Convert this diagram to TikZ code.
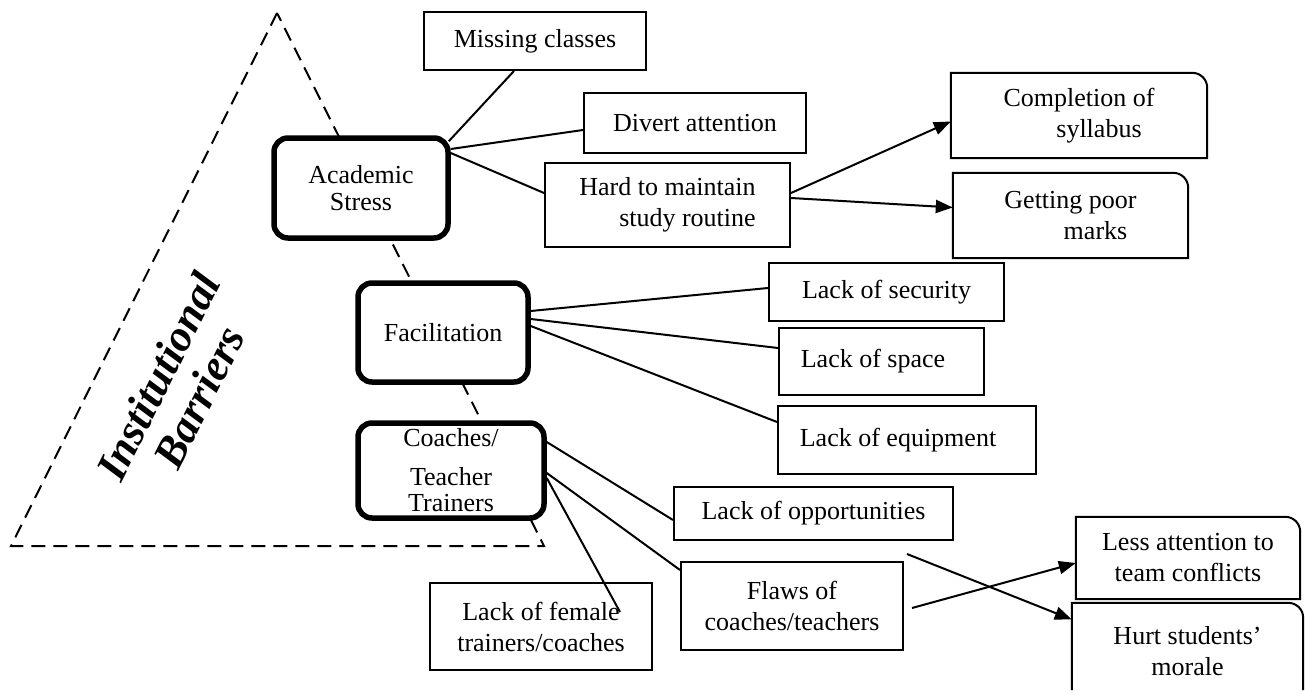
\documentclass[tikz,border=0pt]{standalone}
\usepackage{fontspec}
\setmainfont{Liberation Serif}
\usetikzlibrary{arrows.meta}
\newcommand\boxfont{\fontsize{26pt}{31pt}\selectfont}
\newcommand\ibfont{\fontsize{44pt}{46pt}\selectfont\bfseries\itshape}
\tikzset{
  box/.style={draw, line width=2pt, fill=white, inner sep=0pt, align=center, font=\boxfont},
  rbox/.style={fill=white, inner sep=0pt, align=center, font=\boxfont},
  bigbox/.style={draw, line width=5.5pt, rounded corners=14pt, fill=white, inner sep=0pt, align=center, font=\boxfont},
  link/.style={line width=2pt},
  arr/.style={line width=2pt, -{Triangle[length=17pt,width=13pt]}},
  tri/.style={line width=2pt, dash pattern=on 14pt off 8pt},
  rborder/.style={line width=2pt}
}
\begin{document}
\begin{tikzpicture}[x=1pt,y=-1pt]
\useasboundingbox (0,0) rectangle (1305,690);
% triangle
\coordinate (apex) at (277,13);
\coordinate (bl) at (11,546);
\coordinate (br) at (544,546);
\draw[tri] (apex) -- (bl) -- (br) -- cycle;
\node[font=\ibfont, align=center, rotate=63.4] (ib) at (178.5,386.5) {Institutional\\Barriers};

% main boxes
\node[bigbox, minimum width=174pt, minimum height=100pt] (acad) at (361,188) {Academic\\[-4pt]Stress};
\node[bigbox, minimum width=170pt, minimum height=99pt] (fac) at (443,332.5) {Facilitation};
\node[bigbox, minimum width=186pt, minimum height=95pt] (coach) at (451,470.5) {Coaches/\\[8pt]Teacher\\[-5pt]Trainers};

% academic branch
\node[box, minimum width=222pt, minimum height=58pt] (miss) at (535,41) {Missing classes};
\node[box, minimum width=222pt, minimum height=60pt] (div) at (695,123) {Divert attention};
\node[box, minimum width=245pt, minimum height=84pt] (hard) at (667.5,205) {Hard to maintain\\\hspace*{40pt}study routine};
\node[rbox, minimum width=256pt, minimum height=85pt] (compl) at (1079,115.5) {Completion of\\\hspace*{40pt}syllabus};
\node[rbox, minimum width=235pt, minimum height=85pt] (poor) at (1070.5,215.5) {Getting poor\\\hspace*{50pt}marks};

% facilitation branch
\node[box, minimum width=235pt, minimum height=58pt] (sec) at (886.5,292) {Lack of security};
\node[box, minimum width=205pt, minimum height=67pt] (space) at (881.5,361.5) {Lack of space\hspace*{17pt}};
\node[box, minimum width=258pt, minimum height=68pt] (equip) at (907,440) {Lack of equipment\hspace*{18pt}};

% coaches branch
\node[box, minimum width=279pt, minimum height=53pt] (opp) at (813.5,513.5) {Lack of opportunities};
\node[box, minimum width=222pt, minimum height=88pt] (flaws) at (792,606) {Flaws of\\coaches/teachers};
\node[box, minimum width=222pt, minimum height=87pt] (fem) at (541,626.5) {Lack of female\\trainers/coaches};
\node[rbox, minimum width=224pt, minimum height=82pt] (less) at (1188,558) {Less attention to\\team conflicts};
\node[rbox, minimum width=231pt, minimum height=96pt] (hurt) at (1187.5,651) {Hurt students'\\morale};

% borders with rounded top-right corner
\draw[rborder] (compl.south west) -- (compl.north west) -- ([xshift=-15pt]compl.north east) to[out=0,in=90] ([yshift=-15pt]compl.north east) -- (compl.south east) -- cycle;
\draw[rborder] (poor.south west) -- (poor.north west) -- ([xshift=-15pt]poor.north east) to[out=0,in=90] ([yshift=-15pt]poor.north east) -- (poor.south east) -- cycle;
\draw[rborder] (less.south west) -- (less.north west) -- ([xshift=-15pt]less.north east) to[out=0,in=90] ([yshift=-15pt]less.north east) -- (less.south east) -- cycle;
\draw[rborder] ([yshift=9pt]hurt.south west) -- (hurt.north west) -- ([xshift=-15pt]hurt.north east) to[out=0,in=90] ([yshift=-15pt]hurt.north east) -- ([yshift=9pt]hurt.south east);

% connectors: academic
\draw[link] ([shift={(-2pt,-6pt)}]acad.north east) -- ([xshift=-21pt]miss.south);
\draw[link] ([yshift=39pt]acad.east) -- ([yshift=-7pt]div.west);
\draw[link] ([yshift=35pt]acad.east) -- ([yshift=12pt]hard.west);
\draw[arr] ([yshift=12pt]hard.east) -- ([yshift=-6pt]compl.west);
\draw[arr] ([yshift=7pt]hard.east) -- ([yshift=8pt]poor.west);

% connectors: facilitation
\draw[link] ([yshift=21.5pt]fac.east) -- ([yshift=4pt]sec.west);
\draw[link] ([yshift=13.5pt]fac.east) -- ([yshift=13.5pt]space.west);
\draw[link] ([yshift=6.5pt]fac.east) -- ([yshift=18pt]equip.west);

% connectors: coaches
\draw[link] ([yshift=28.5pt]coach.east) -- ([yshift=-6.5pt]opp.west);
\draw[link] ([yshift=-2.5pt]coach.east) -- ([yshift=36pt]flaws.west);
\draw[link] ([yshift=-7.5pt]coach.east) -- ([shift={(79pt,14.5pt)}]fem.center);

% crossing arrows
\coordinate (oppout) at ([shift={(93.5pt,-13pt)}]opp.south);
\coordinate (flawsout) at ([shift={(8pt,-2pt)}]flaws.east);
\draw[arr] (oppout) -- ([yshift=31.5pt]hurt.west);
\draw[arr] (flawsout) -- ([yshift=-5pt]less.west);
\end{tikzpicture}
\end{document}
